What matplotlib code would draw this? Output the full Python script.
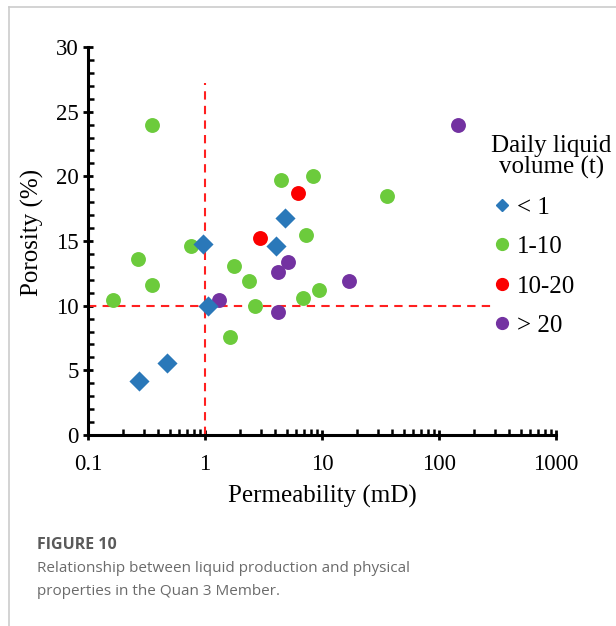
import matplotlib
matplotlib.use("Agg")
import matplotlib.pyplot as plt
from matplotlib.ticker import FixedLocator, MultipleLocator, LogLocator, NullFormatter
from matplotlib.lines import Line2D

# ---- data ----
lt1_perm = [0.97, 1.06, 0.274, 0.475, 4.06, 4.81]
lt1_poro = [14.8, 10.0, 4.2, 5.6, 14.6, 16.8]

g1_10_perm = [0.353, 0.163, 0.27, 0.353, 0.763, 1.63, 1.76, 2.40, 2.66, 4.42, 8.3, 7.23, 6.92, 9.48, 35.8]
g1_10_poro = [24.0, 10.4, 13.6, 11.6, 14.6, 7.6, 13.1, 11.9, 10.0, 19.7, 20.0, 15.5, 10.6, 11.2, 18.5]

g10_20_perm = [2.98, 6.22]
g10_20_poro = [15.2, 18.7]

gt20_perm = [1.31, 4.19, 5.14, 4.22, 17.0, 144.0]
gt20_poro = [10.4, 12.6, 13.4, 9.5, 11.9, 24.0]

legend_labels = ["< 1", "1-10", "10-20", "> 20"]
colors = ["#2a78b9", "#6ccb3c", "#fb0000", "#7332a1"]
x_ticks = [0.1, 1, 10, 100, 1000]
x_ticklabels = ["0.1", "1", "10", "100", "1000"]
y_ticks = [0, 5, 10, 15, 20, 25, 30]

serif = "Liberation Serif"

fig = plt.figure(figsize=(6.16, 6.26), dpi=100)
ax = fig.add_axes([88/616, 1-435/626, 468/616, 388/626])

ax.scatter(g1_10_perm, g1_10_poro, s=115, c=colors[1], marker="o", linewidths=0, zorder=3)
ax.scatter(gt20_perm, gt20_poro, s=115, c=colors[3], marker="o", linewidths=0, zorder=3)
ax.scatter(g10_20_perm, g10_20_poro, s=115, c=colors[2], marker="o", linewidths=0, zorder=3)
ax.scatter(lt1_perm, lt1_poro, s=105, c=colors[0], marker="D", linewidths=0, zorder=4)

# reference dashed lines
ax.plot([1, 1], [0, 27.2], ls=(0, (4, 3)), color="#ff2020", lw=1.5, zorder=2)
ax.plot([0.1, 290], [10, 10], ls=(0, (4, 3)), color="#ff2020", lw=1.5, zorder=2)

ax.set_xscale("log")
ax.set_xlim(0.1, 1000)
ax.set_ylim(0, 30)
ax.xaxis.set_major_locator(FixedLocator(x_ticks))
ax.set_xticklabels(x_ticklabels)
ax.xaxis.set_minor_locator(LogLocator(base=10, subs=range(2, 10)))
ax.xaxis.set_minor_formatter(NullFormatter())
ax.yaxis.set_major_locator(FixedLocator(y_ticks))
ax.yaxis.set_minor_locator(MultipleLocator(1))

for s in ["top", "right"]:
    ax.spines[s].set_visible(False)
for s in ["left", "bottom"]:
    ax.spines[s].set_linewidth(2.2)

ax.tick_params(which="major", direction="inout", length=7, width=2, labelsize=16.5)
ax.tick_params(axis="x", which="major", pad=10)
ax.tick_params(axis="y", which="major", pad=3)
ax.tick_params(which="minor", direction="in", length=4, width=1.8)
for lab in ax.get_xticklabels() + ax.get_yticklabels():
    lab.set_fontfamily(serif)

ax.set_xlabel("Permeability (mD)", fontfamily=serif, fontsize=18, labelpad=7)
ax.set_ylabel("Porosity (%)", fontfamily=serif, fontsize=18)
ax.yaxis.set_label_coords(-0.095, 0.523)

handles = [
    Line2D([], [], marker="D", color=colors[0], ls="none", markersize=6.5),
    Line2D([], [], marker="o", color=colors[1], ls="none", markersize=8.5),
    Line2D([], [], marker="o", color=colors[2], ls="none", markersize=8.5),
    Line2D([], [], marker="o", color=colors[3], ls="none", markersize=8.5),
]
leg = fig.legend(handles, legend_labels, title="Daily liquid\nvolume (t)", frameon=False,
                 loc="upper left", bbox_to_anchor=(491/616, 1-135/626),
                 prop={"family": serif, "size": 18}, title_fontproperties={"family": serif, "size": 18},
                 handletextpad=0.15, handlelength=0.9, labelspacing=0.68, borderaxespad=0,
                 borderpad=0)
leg._legend_box.align = "left"
leg.get_title().set_multialignment("center")
leg.get_title().set_linespacing(0.95)

# caption
fig.text(37/616, 1-545/626, "FIGURE 10", fontfamily="Open Sans", fontweight="bold",
         fontsize=11.5, color="#5a5a5a", va="center", ha="left")
fig.text(37/616, 1-580/626, "Relationship between liquid production and physical\nproperties in the Quan 3 Member.",
         fontfamily="Open Sans", fontsize=11, color="#6b6b6b", va="center", ha="left", linespacing=1.65)

# page frame lines
fig.add_artist(Line2D([9/616, 9/616], [0, 1-7/626], color="#cccccc", lw=1.2, transform=fig.transFigure))
fig.add_artist(Line2D([9/616, 1], [1-7/626, 1-7/626], color="#cccccc", lw=1.2, transform=fig.transFigure))

fig.savefig("out.png", dpi=100)
